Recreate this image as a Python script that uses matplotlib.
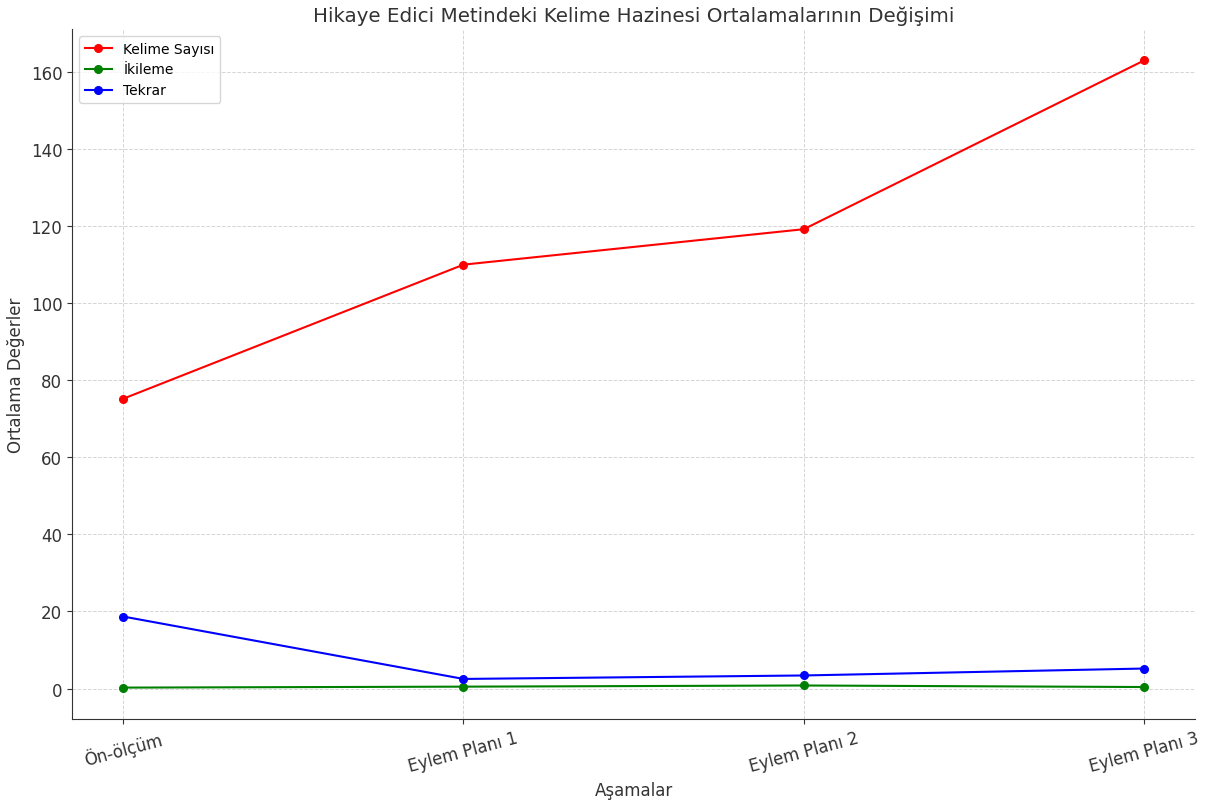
import matplotlib
matplotlib.use("Agg")
import matplotlib.pyplot as plt

# Stages and mean values
stages = ["Ön-ölçüm", "Eylem Planı 1", "Eylem Planı 2", "Eylem Planı 3"]
kelime_sayisi = [75.2, 110.0, 119.2, 163.0]
ikileme = [0.25, 0.5, 0.8, 0.4]
tekrar = [18.7, 2.5, 3.4, 5.2]

fig = plt.figure(figsize=(12.11, 8.03), dpi=100)
ax = fig.add_axes([0.0595, 0.1034, 0.9275, 0.8592])

ax.plot(stages, kelime_sayisi, marker="o", markersize=5.5, color="red", label="Kelime Sayısı")
ax.plot(stages, ikileme, marker="o", markersize=5.5, color="green", label="İkileme")
ax.plot(stages, tekrar, marker="o", markersize=5.5, color="blue", label="Tekrar")

ax.set_title("Hikaye Edici Metindeki Kelime Hazinesi Ortalamalarının Değişimi",
             fontsize=14.3, color="#333333")
ax.set_xlabel("Aşamalar", fontsize=12, color="#333333")
ax.set_ylabel("Ortalama Değerler", fontsize=12, color="#333333")

ax.grid(True, linestyle="--", color="#d5d5d5", linewidth=0.7)
ax.spines["top"].set_visible(False)
ax.spines["right"].set_visible(False)
for s in ["left", "bottom"]:
    ax.spines[s].set_color("#333333")

ax.tick_params(axis="both", labelsize=12, colors="#333333")
plt.setp(ax.get_xticklabels(), rotation=15)

ax.legend(loc="upper left", fontsize=10)

fig.savefig("out.png", dpi=100)
